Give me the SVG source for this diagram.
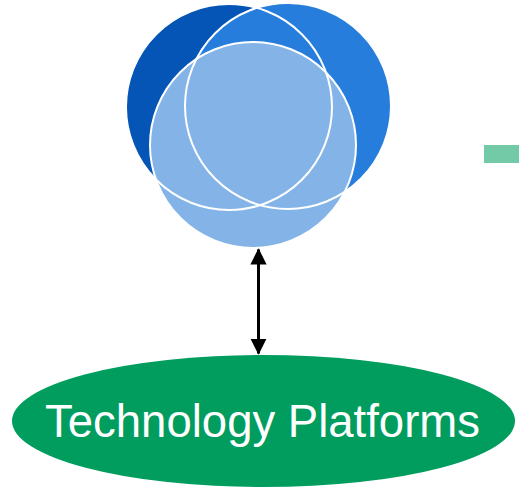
<svg xmlns="http://www.w3.org/2000/svg" width="519" height="490" viewBox="0 0 519 490">
<defs>
<style>
.ring{fill:none;stroke:#ffffff;stroke-width:2}
.conn{stroke:#000;stroke-width:3;fill:none}
.label{font-family:"Liberation Sans",Arial,sans-serif;font-size:45.5px;fill:#ffffff;text-anchor:middle}
</style>
<marker id="ah" markerWidth="5.4" markerHeight="5.4" refX="5" refY="2.7" orient="auto-start-reverse" markerUnits="strokeWidth" viewBox="0 0 5.4 5.4">
<path d="M0,0 L5.4,2.7 L0,5.4 Z" fill="#000"/>
</marker>
</defs>
<rect width="519" height="490" fill="#ffffff"/>
<g id="venn">
<circle cx="229" cy="107" r="103" fill="#0455B5"/>
<circle cx="288" cy="106" r="103" fill="#267DDB"/>
<circle cx="253" cy="145" r="103" fill="#83B3E7"/>
<circle class="ring" cx="229" cy="107" r="103"/>
<circle class="ring" cx="288" cy="106" r="103"/>
<circle class="ring" cx="253" cy="145" r="103"/>
</g>
<g id="green-bar">
<rect x="484" y="145" width="40" height="18" fill="#72CBA6"/>
</g>
<g id="connectors">
<line class="conn" x1="258.5" y1="249.5" x2="258.5" y2="353.5" marker-start="url(#ah)" marker-end="url(#ah)"/>
</g>
<g id="technology-platforms">
<ellipse cx="263.5" cy="421" rx="251.5" ry="66" fill="#009D5F"/>
<text class="label" x="262.5" y="437">Technology Platforms</text>
</g>
</svg>
